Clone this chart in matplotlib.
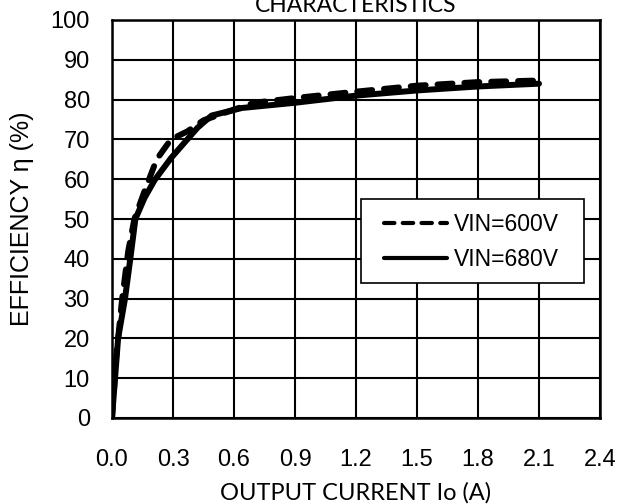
import matplotlib.pyplot as plt
from matplotlib.patches import Rectangle

# VIN = 600V (dashed)
io_600 = [0.0, 0.02, 0.05, 0.08, 0.11, 0.16, 0.22, 0.29, 0.37, 0.45, 0.6, 0.7, 0.9, 1.2, 1.5, 1.8, 2.1]
eff_600 = [0, 15, 30, 42, 50, 57, 65, 70, 72, 74.8, 77.5, 79.2, 80.4, 82, 83.5, 84.4, 84.8]

# VIN = 680V (solid)
io_680 = [0.0, 0.03, 0.064, 0.09, 0.115, 0.16, 0.21, 0.29, 0.42, 0.49, 0.64, 0.9, 1.2, 1.5, 1.8, 2.1]
eff_680 = [0, 20, 30, 40, 50, 55.3, 59.8, 65.3, 72.9, 76, 77.9, 79.2, 81, 82.3, 83.3, 84]

xticks = [0.0, 0.3, 0.6, 0.9, 1.2, 1.5, 1.8, 2.1, 2.4]
yticks = list(range(0, 101, 10))

W, H = 622, 504
fig = plt.figure(figsize=(W/100, H/100), dpi=100)
ax = fig.add_axes([112/W, 1 - 418/H, 488/W, 398/H])

ax.plot(io_600, eff_600, color='black', lw=4.3, ls=(0, (2.5, 2)), label='VIN=600V',
        dash_capstyle='round', solid_joinstyle='round', dash_joinstyle='round')
ax.plot(io_680, eff_680, color='black', lw=4.3, ls='-', label='VIN=680V',
        solid_capstyle='round', solid_joinstyle='round')

ax.set_xlim(0, 2.4)
ax.set_ylim(0, 100)
ax.set_xticks(xticks)
ax.set_xticklabels(['%.1f' % t for t in xticks])
ax.set_yticks(yticks)
ax.grid(True, color='black', lw=1.5)
ax.set_axisbelow(True)
for s in ax.spines.values():
    s.set_linewidth(1.8)
ax.tick_params(length=0, labelsize=17)
ax.tick_params(axis='y', pad=16)
ax.tick_params(axis='x', pad=22)
for lab in ax.get_xticklabels() + ax.get_yticklabels():
    lab.set_family('Liberation Sans')

ax.set_xlabel('OUTPUT CURRENT Io (A)', family='Lato', fontsize=17)
ax.xaxis.label.set_va('baseline')
ax.xaxis.set_label_coords(0.5, (418 - 500) / 398)

ax.set_ylabel('EFFICIENCY η (%)', family=['Liberation Sans', 'DejaVu Sans'], fontsize=18)
ax.yaxis.label.set_va('center')
ax.yaxis.set_label_coords((22 - 112) / 488, 0.5)

fig.text(356/W, 1 - 12/H, 'CHARACTERISTICS', family='Lato', fontsize=16.5,
         ha='center', va='baseline')

# legend box
bx0, bx1, by0, by1 = 361, 584, 199, 283
ax.add_patch(Rectangle(((bx0 - 112) / 488, (418 - by1) / 398), (bx1 - bx0) / 488, (by1 - by0) / 398,
                       transform=ax.transAxes, facecolor='white', edgecolor='black',
                       lw=1.2, zorder=4.5, clip_on=False))
leg = ax.legend(loc='center', bbox_to_anchor=((471 - 112) / 488, (418 - 242) / 398),
                frameon=False, prop={'family': 'Liberation Sans', 'size': 16.5},
                handlelength=2.75, handletextpad=0.3, labelspacing=0.55, borderpad=0)
leg.set_zorder(5)
for line in leg.get_lines():
    line.set_linewidth(3)

fig.savefig('out.png')
